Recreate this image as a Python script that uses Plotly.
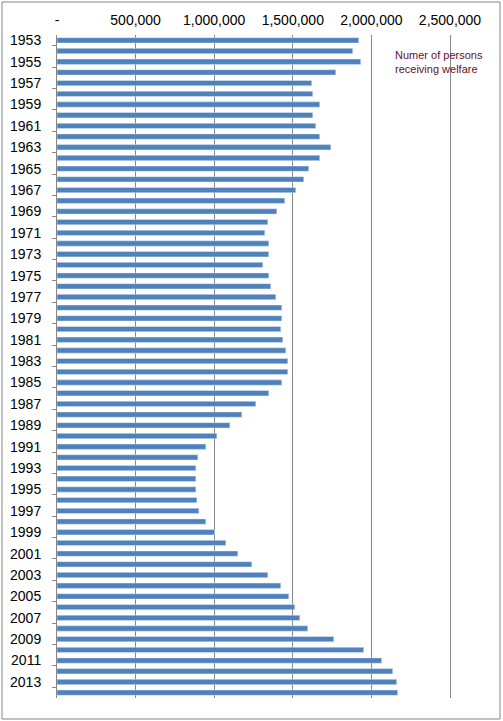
import plotly.graph_objects as go

# Number of persons receiving welfare, Japan
years = list(range(1953, 2015))
persons = [
    1919500, 1881300, 1932200, 1773300, 1620700, 1627100, 1671600, 1627100,
    1646200, 1671600, 1741500, 1671600, 1601700, 1569900, 1519000, 1449100,
    1398300, 1341100, 1322000, 1347400, 1347400, 1309300, 1347400, 1360100,
    1391900, 1430100, 1430100, 1423700, 1436400, 1455500, 1468200, 1468200,
    1430100, 1347400, 1264800, 1175800, 1099600, 1016900, 947000, 896200,
    883400, 883400, 883400, 889800, 902500, 947000, 1002100, 1074100,
    1150400, 1239400, 1341100, 1423700, 1474600, 1512700, 1544500, 1595300,
    1760600, 1951200, 2065600, 2135600, 2161000, 2167300,
]
x_ticks = [0, 500000, 1000000, 1500000, 2000000, 2500000]
x_labels = ["-", "500,000", "1,000,000", "1,500,000", "2,000,000", "2,500,000"]

GRID = "#868686"

fig = go.Figure()

fig.add_trace(go.Bar(
    x=persons, y=years, orientation="h",
    marker_color="#4f81bd", width=0.5,
    name="Numer of persons receiving welfare",
))

# range runs a little past 2.5M so its gridline is still drawn
fig.update_xaxes(
    side="top", range=[0, 2512700], automargin=False,
    tickvals=x_ticks, ticktext=x_labels, ticklabelstandoff=6,
    showgrid=True, gridcolor=GRID, gridwidth=1,
    zeroline=False, showline=False, ticks="",
    tickfont=dict(size=14, color="black"),
)
fig.update_yaxes(
    range=[2014.5, 1952.5], automargin=False,
    tick0=1953, dtick=2, ticks="", ticklabelstandoff=12,
    showgrid=False, zeroline=False,
    showline=True, linecolor=GRID, linewidth=1,
    tickfont=dict(size=14, color="black"),
    minor=dict(tick0=1953.5, dtick=2, ticks="outside", ticklen=4,
               tickcolor=GRID, showgrid=False),
)

# outer chart border (paper coords, plot area is 395 x 663 px)
fig.add_shape(type="rect", xref="paper", yref="paper",
              x0=-55 / 395, x1=443 / 395, y0=-21 / 663, y1=696 / 663,
              line=dict(color=GRID, width=1))

fig.add_annotation(
    xref="paper", yref="paper", x=336 / 395, y=0.982,
    xanchor="left", yanchor="top", align="left", showarrow=False,
    text="Numer of persons<br>receiving welfare",
    font=dict(size=11, color="#6b0d2e"),
)

fig.update_layout(
    width=503, height=721,
    margin=dict(l=57, r=51, t=35, b=23),
    plot_bgcolor="white", paper_bgcolor="white",
    font=dict(family="Liberation Sans, Arial, sans-serif"),
    showlegend=False,
)

# drop the default 8px page margin so the figure fills the window
fig.write_html("out.html", config={"displayModeBar": False},
               post_script="document.body.style.margin='0';")
